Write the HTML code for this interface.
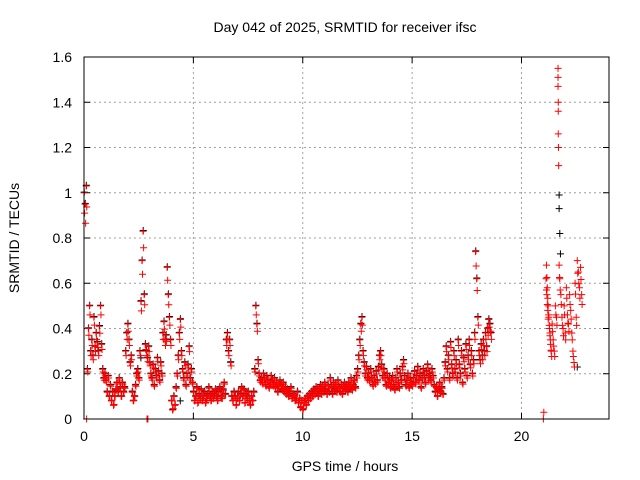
<!DOCTYPE html>
<html><head><meta charset="utf-8"><style>
body{margin:0;background:#fff;}
svg{display:block;font-family:"Liberation Sans",sans-serif;}
</style></head><body>
<svg id="chart" width="640" height="480" xmlns="http://www.w3.org/2000/svg">
<rect width="640" height="480" fill="#fff"/>
<text x="345" y="32" font-size="14" text-anchor="middle">Day 042 of 2025, SRMTID for receiver ifsc</text>
<text transform="translate(19,238) rotate(-90)" font-size="14" text-anchor="middle">SRMTID / TECUs</text>
<text x="345" y="471" font-size="14" text-anchor="middle">GPS time / hours</text>
<g id="grid"></g><g id="axes"></g><g id="black"></g><g id="red"></g>
<rect x="84" y="57" width="525" height="362" fill="none" stroke="#000" stroke-width="1"/>
</svg>
<script>
const xTicks=[0,5,10,15,20];
const yTicks=[0,0.2,0.4,0.6,0.8,1,1.2,1.4,1.6];
const yTickLabels=["0","0.2","0.4","0.6","0.8","1","1.2","1.4","1.6"];
const seg1Start=0, seg1Step=0.05;
const seg1Values=[
1.00,0.95,1.03,0.22,0.40,0.50,0.30,0.35,0.28,0.45,0.32,0.38,0.34,0.30,0.41,0.50,0.33,0.22,0.18,0.20,
0.17,0.12,0.19,0.10,0.15,0.08,0.12,0.06,0.10,0.13,0.16,0.12,0.18,0.14,0.10,0.16,0.12,0.14,0.30,0.38,
0.42,0.35,0.25,0.28,0.12,0.08,0.10,0.15,0.20,0.22,0.18,0.30,0.52,0.70,0.83,0.55,0.33,0.30,0.27,0.32,
0.25,0.20,0.18,0.24,0.15,0.22,0.19,0.27,0.21,0.17,0.25,0.20,0.38,0.43,0.35,0.37,0.67,0.55,0.45,0.35,
0.08,0.04,0.10,0.06,0.14,0.20,0.28,0.38,0.44,0.30,0.22,0.18,0.25,0.15,0.20,0.24,0.32,0.18,0.22,0.16,
0.12,0.08,0.10,0.14,0.07,0.11,0.09,0.13,0.08,0.10,0.12,0.07,0.09,0.11,0.14,0.10,0.08,0.12,0.09,0.11,
0.13,0.10,0.08,0.12,0.14,0.10,0.09,0.13,0.16,0.11,0.35,0.38,0.30,0.35,0.25,0.10,0.08,0.12,0.10,0.06,
0.09,0.12,0.08,0.11,0.14,0.10,0.13,0.07,0.11,0.09,0.12,0.08,0.06,0.10,0.08,0.12,0.22,0.50,0.42,0.26,
0.20,0.17,0.18,0.16,0.20,0.18,0.15,0.19,0.17,0.14,0.16,0.19,0.17,0.15,0.18,0.14,0.16,0.12,0.15,0.17,
0.15,0.13,0.16,0.12,0.14,0.11,0.13,0.10,0.12,0.14,0.09,0.11,0.10,0.08,0.09,0.12,0.07,0.09,0.05,0.08,
0.04,0.07,0.09,0.06,0.10,0.08,0.11,0.09,0.12,0.10,0.13,0.11,0.14,0.12,0.10,0.13,0.15,0.11,0.14,0.12,
0.16,0.13,0.11,0.15,0.12,0.18,0.14,0.11,0.16,0.13,0.15,0.12,0.17,0.14,0.12,0.15,0.11,0.14,0.16,0.13,
0.15,0.12,0.16,0.14,0.18,0.13,0.15,0.17,0.14,0.19,0.22,0.28,0.35,0.42,0.45,0.30,0.25,0.20,0.23,0.18,
0.20,0.17,0.22,0.18,0.15,0.19,0.16,0.21,0.17,0.23,0.28,0.30,0.24,0.19,0.22,0.18,0.15,0.20,0.16,0.18,
0.14,0.17,0.19,0.15,0.13,0.18,0.22,0.16,0.14,0.20,0.17,0.23,0.26,0.19,0.15,0.17,0.20,0.14,0.18,0.16,
0.15,0.18,0.21,0.16,0.19,0.23,0.17,0.20,0.14,0.18,0.22,0.19,0.16,0.21,0.24,0.18,0.20,0.17,0.22,0.19,
0.15,0.12,0.14,0.10,0.13,0.16,0.12,0.14,0.11,0.18,0.25,0.32,0.22,0.28,0.18,0.34,0.24,0.20,0.30,0.22,
0.26,0.18,0.35,0.24,0.20,0.30,0.16,0.27,0.22,0.33,0.19,0.28,0.35,0.24,0.30,0.20,0.26,0.38,0.74,0.62,
0.45,0.30,0.26,0.33,0.28,0.35,0.30,0.38,0.32,0.40,0.44,0.42,0.38];
const seg2Times=[21.0,21.02,21.12,21.14,21.16,21.18,21.2,21.22,21.25,21.28,21.3,21.33,21.36,21.4,21.45,21.5,21.55,21.6,21.67,21.67,21.67,21.68,21.68,21.68,21.69,21.7,21.72,21.75,21.8,21.85,21.9,21.95,22.0,22.05,22.1,22.15,22.2,22.25,22.3,22.35,22.4,22.45,22.5,22.55,22.6,22.65,22.7,22.75];
const seg2Values=[0.00,0.03,0.62,0.68,0.55,0.58,0.48,0.50,0.45,0.40,0.38,0.33,0.30,0.42,0.35,0.30,0.50,0.45,1.55,1.51,1.47,1.40,1.36,1.26,1.20,1.12,0.68,0.62,0.55,0.45,0.40,0.50,0.38,0.58,0.46,0.42,0.55,0.48,0.38,0.30,0.25,0.60,0.45,0.70,0.65,0.58,0.67,0.55];
const zeroTimes=[0.12,2.88,2.9,2.92];
const zeroValues=[0,0,0,0];
const blackTimes=[21.72,21.72,21.75,21.78,22.55,2.6,4.4];
const blackValues=[0.99,0.93,0.82,0.73,0.23,0.27,0.08];

const X0=84,X1=609,Y0=419,Y1=57;
const xs=t=>X0+(t/24)*(X1-X0);
const ys=v=>Y0-(v/1.6)*(Y0-Y1);
const NS="http://www.w3.org/2000/svg";
function mk(tag,attrs,parent){const e=document.createElementNS(NS,tag);for(const k in attrs)e.setAttribute(k,attrs[k]);parent.appendChild(e);return e;}
const grid=document.getElementById('grid'),axes=document.getElementById('axes');
xTicks.forEach(t=>{
  const x=xs(t);
  if(t>0){const g=mk('line',{x1:x,x2:x,y1:Y0,y2:Y1,stroke:'#a0a0a0','stroke-dasharray':'2,3'},grid);
  }
  mk('line',{x1:x,x2:x,y1:Y0,y2:Y0-6,stroke:'#000'},axes);
  mk('line',{x1:x,x2:x,y1:Y1,y2:Y1+6,stroke:'#000'},axes);
  const l=mk('text',{x:x,y:Y0+22,'font-size':'14','text-anchor':'middle'},axes);l.textContent=t;
  
});
yTicks.forEach((v,i)=>{
  const y=ys(v);
  if(v>0&&v<1.6){const g=mk('line',{x1:X0,x2:X1,y1:y,y2:y,stroke:'#a0a0a0','stroke-dasharray':'2,3'},grid);
  }
  mk('line',{x1:X0,x2:X0+6,y1:y,y2:y,stroke:'#000'},axes);
  mk('line',{x1:X1,x2:X1-6,y1:y,y2:y,stroke:'#000'},axes);
  const l=mk('text',{x:X0-12,y:y+5,'font-size':'14','text-anchor':'end'},axes);l.textContent=yTickLabels[i];
  
});
function plus(g,t,v,color){
  const x=xs(t),y=ys(v);
  const p=mk('path',{d:`M${x-3.5},${y}h7M${x},${y-3.5}v7`,stroke:color,'stroke-width':'1',fill:'none'},g);
  
  
}
const blk=document.getElementById('black'),red=document.getElementById('red');
blackTimes.forEach((t,i)=>plus(blk,t,blackValues[i],'#000'));
seg1Values.forEach((v,i)=>{const t=seg1Start+i*seg1Step;plus(blk,t+0.01,v+0.003,'#000');});
seg1Values.forEach((v,i)=>{const t=seg1Start+i*seg1Step;plus(red,t,v,'#f00');plus(red,t+0.025,v*0.9+0.01,'#f00');});
seg2Times.forEach((t,i)=>{plus(red,t,seg2Values[i],'#f00');if(seg2Values[i]<0.9&&seg2Values[i]>0.05)plus(red,t+0.02,seg2Values[i]*0.92,'#f00');});
zeroTimes.forEach((t,i)=>{plus(red,t,zeroValues[i],'#f00');});
</script>
</body></html>
